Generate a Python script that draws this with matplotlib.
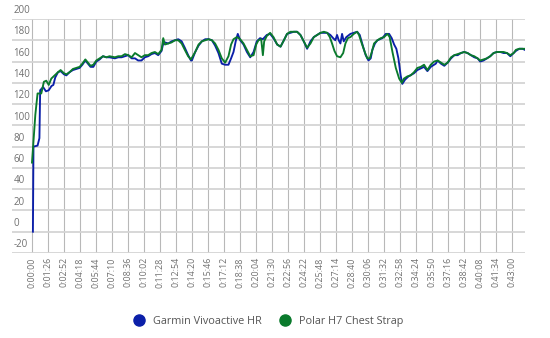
import matplotlib
matplotlib.use("Agg")
import matplotlib.pyplot as plt
from matplotlib.lines import Line2D

# heart rate over the session, seconds from start -> bpm
polar_t = [0, 10, 18, 30, 50, 64, 77, 90, 104, 122, 140, 154, 172, 185, 202, 220, 238, 256,
           271, 287, 301, 315, 330, 346, 364, 382, 400, 417,
           446, 464, 482, 500, 518, 536, 554, 571, 589, 607, 625, 643, 661, 679, 697, 706,
           715, 733, 751, 769, 787, 805, 822, 840, 855,
           878, 896, 914, 932, 950, 968, 985, 1003, 1021, 1039, 1057, 1071, 1084, 1102, 1120,
           1138, 1156, 1174, 1192, 1206, 1218, 1233, 1242, 1249, 1263, 1281, 1299,
           1319, 1337, 1355, 1372, 1390, 1408, 1426, 1444, 1462, 1480, 1498, 1516, 1534, 1552,
           1570, 1588, 1602, 1614, 1627, 1641, 1659, 1674, 1686, 1699, 1713, 1731, 1749,
           1759, 1774, 1792, 1804, 1817, 1828, 1840, 1858, 1876, 1894, 1912, 1924, 1939, 1957,
           1975, 1989, 2001, 2019, 2037, 2055, 2073, 2091, 2109, 2127, 2145, 2163,
           2182, 2200, 2218, 2236, 2254, 2272, 2290, 2307, 2325, 2343, 2361, 2379, 2397, 2411,
           2429, 2447, 2465, 2483, 2501, 2519, 2537, 2555, 2573, 2591, 2603, 2621, 2639, 2651]
polar_hr = [65, 90, 110, 130, 130, 141, 142, 138, 144, 147, 150, 152, 149, 148, 150, 153, 154, 155,
            158, 162, 159, 156, 157, 161, 163, 165, 164, 165,
            164, 165, 165, 167, 166, 164, 168, 166, 164, 166, 166, 168, 169, 167, 171, 182,
            176, 177, 178, 180, 180, 177, 171, 165, 162,
            169, 176, 179, 180, 181, 180, 177, 171, 163, 159, 165, 176, 181, 183, 181,
            177, 171, 165, 166, 176, 180, 181, 166, 179, 184, 187, 183,
            176, 174, 180, 186, 188, 188, 188, 185, 179, 173, 177, 183, 185, 187,
            188, 187, 183, 177, 170, 165, 164, 168, 177, 182, 183, 186, 188,
            185, 177, 168, 163, 163, 169, 177, 180, 182, 183, 186, 183, 169, 154,
            144, 140, 144, 146, 147, 150, 154, 155, 157, 152, 157, 160,
            161, 159, 157, 159, 164, 166, 167, 168, 169, 168, 166, 165, 163, 161,
            162, 163, 165, 168, 169, 169, 169, 168, 166, 168, 171, 172, 172, 172]

garmin_t = [5, 8, 30, 40, 44, 60, 75, 90, 105, 115, 125, 140, 154, 172, 185, 202, 220, 238, 256,
            271, 287, 301, 315, 330, 346, 364, 382, 400, 417,
            446, 464, 482, 500, 518, 536, 554, 571, 589, 607, 625, 643, 661, 679, 697, 706,
            715, 733, 751, 769, 787, 805, 822, 840, 855,
            860, 878, 896, 914, 932, 950, 968, 985, 1003, 1021, 1039, 1057, 1071, 1084, 1097,
            1107, 1120, 1138, 1156, 1174, 1192, 1209, 1227, 1242, 1263, 1281, 1299,
            1319, 1337, 1355, 1372, 1390, 1408, 1426, 1444, 1462, 1480, 1498, 1516, 1552, 1588,
            1605, 1620, 1632, 1641, 1650, 1659, 1668, 1677, 1691, 1713, 1749,
            1763, 1781, 1795, 1810, 1822, 1831, 1845, 1858, 1885, 1903, 1921, 1935, 1948, 1960,
            1971, 1983, 1992, 2007, 2025, 2055, 2073, 2109, 2127, 2145, 2172,
            2182, 2200, 2218, 2236, 2254, 2272, 2290, 2307, 2325, 2343, 2361, 2379, 2397, 2411,
            2429, 2447, 2465, 2483, 2501, 2519, 2537, 2555, 2573, 2591, 2603, 2621, 2639, 2651]
garmin_hr = [0, 80, 81, 88, 133, 136, 132, 133, 137, 138, 145, 150, 151, 148, 147, 150, 152, 153, 154,
             157, 161, 158, 155, 155, 160, 162, 165, 164, 164,
             163, 164, 164, 165, 166, 163, 163, 161, 161, 164, 165, 167, 168, 166, 170, 177,
             178, 177, 179, 180, 181, 179, 173, 166, 161,
             161, 169, 175, 179, 181, 181, 180, 175, 168, 158, 157, 157, 163, 169, 180,
             186, 180, 176, 169, 164, 169, 179, 182, 181, 185, 186, 182,
             176, 174, 180, 186, 187, 188, 188, 185, 179, 172, 179, 183, 187, 187,
             185, 182, 180, 185, 180, 177, 186, 179, 183, 186, 188,
             185, 174, 166, 161, 163, 171, 177, 180, 182, 186, 186, 182, 176, 172,
             163, 147, 139, 143, 146, 149, 152, 155, 151, 155, 158,
             161, 158, 156, 159, 163, 166, 166, 168, 169, 168, 166, 164, 163, 160,
             161, 163, 165, 168, 169, 169, 168, 168, 165, 168, 170, 172, 172, 171]

tick_step = 86
tick_pos = list(range(0, 2581, tick_step))
tick_labels = ["%d:%02d:%02d" % (s // 3600, (s % 3600) // 60, s % 60) for s in tick_pos]
y_ticks = list(range(-20, 201, 20))

blue = "#0b1fa9"
green = "#0a7a2c"

fig = plt.figure(figsize=(5.5, 3.38), dpi=100)
ax = fig.add_axes([12 / 550, 85 / 338, 513 / 550, 234 / 338])

ax.plot(garmin_t, garmin_hr, color=blue, lw=1.35, solid_joinstyle="round")
ax.plot(polar_t, polar_hr, color=green, lw=1.35, solid_joinstyle="round")

ax.set_xlim(-107.5, 2652)
ax.set_ylim(-20, 200)
ax.set_xticks(tick_pos)
ax.set_xticklabels(tick_labels, rotation=90, fontsize=6.4, color="#707070", family="Open Sans")
ax.set_yticks(y_ticks)
ax.set_yticklabels([])
ax.tick_params(length=0, pad=3)

ax.grid(axis="y", color="#d4d4d4", lw=1.3)
ax.grid(axis="x", color="#b8b8b8", lw=0.8)
ax.set_axisbelow(True)
for s in ax.spines.values():
    s.set_visible(False)

# y labels sit on top of their grid lines at the left edge
for v in y_ticks:
    ax.annotate(str(v), xy=(0, v), xycoords=ax.get_yaxis_transform(),
                xytext=(1, 2), textcoords="offset points", va="bottom", ha="left",
                fontsize=7, color="#707070", family="Open Sans")

handles = [Line2D([], [], ls="none", marker="o", ms=8, color=blue),
           Line2D([], [], ls="none", marker="o", ms=8, color=green)]
fig.legend(handles, ["Garmin Vivoactive HR", "Polar H7 Chest Strap"], loc="center",
           bbox_to_anchor=(0.483, 0.05), ncol=2, frameon=False, handletextpad=0.3,
           columnspacing=1.2, prop={"family": "Open Sans", "size": 7.8}, labelcolor="#555555")

fig.savefig("out.png", dpi=100)
